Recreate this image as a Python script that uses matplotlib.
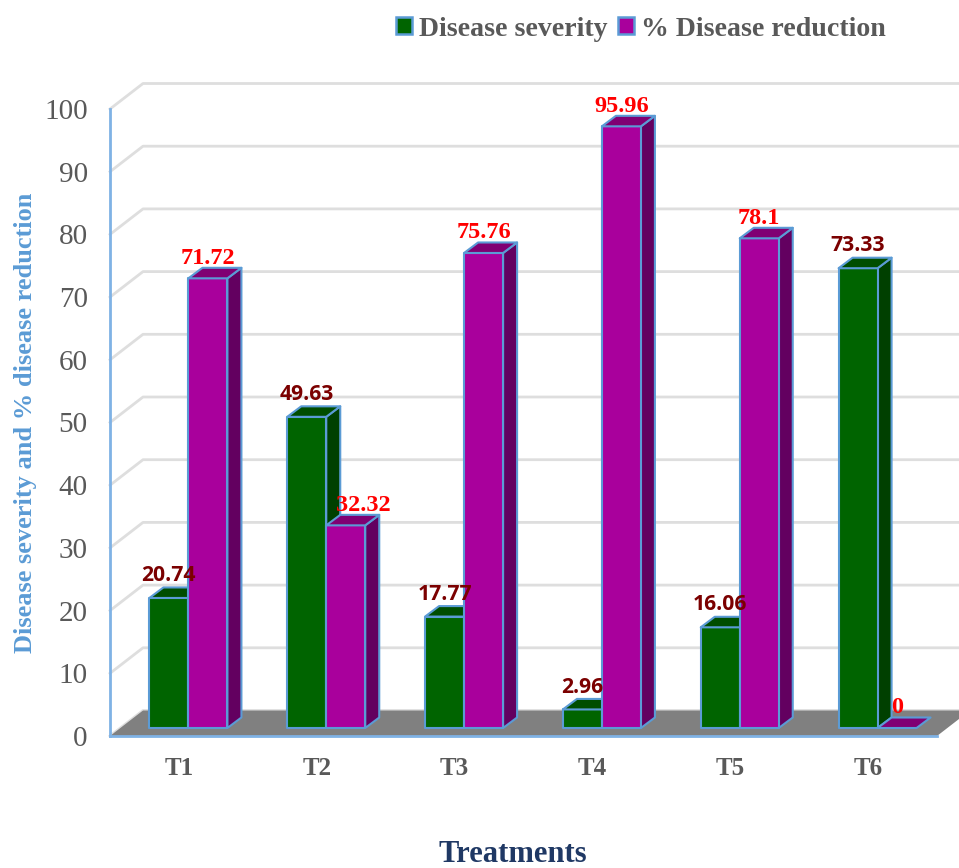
import matplotlib
matplotlib.use("Agg")
import matplotlib.pyplot as plt
from matplotlib.patches import Polygon, Patch

categories = ["T1", "T2", "T3", "T4", "T5", "T6"]
severity = [20.74, 49.63, 17.77, 2.96, 16.06, 73.33]
reduction = [71.72, 32.32, 75.76, 95.96, 78.1, 0]
severity_labels = ["20.74", "49.63", "17.77", "2.96", "16.06", "73.33"]
reduction_labels = ["71.72", "32.32", "75.76", "95.96", "78.1", "0"]
reduction_label_nudge = [0, 18, 0, 0, 0, 0]
y_ticks = list(range(0, 101, 10))

W, H = 959, 868
L, R, B, T = 110, 937, 736, 109
fig = plt.figure(figsize=(W / 100, H / 100), dpi=100)
ax = fig.add_axes([L / W, 1 - B / H, (R - L) / W, (B - T) / H])
ax.set_xlim(0, 6)
ax.set_ylim(0, 100)

px_x = 6 / (R - L)
px_y = 100 / (B - T)
wall_dx, wall_dy = 33 * px_x, 25.5 * px_y    # depth of the chart box
bar_dx, bar_dy = 14 * px_x, 10.5 * px_y      # depth of one bar
base_dx, base_dy = 9.5 * px_x, 8 * px_y      # offset of bars from front of floor
bar_w = 39 * px_x

EDGE = "#5B9BD5"
GRID = "#DEDEDE"
GREEN = ("#006400", "#004D00", "#004000")
MAGENTA = ("#A9009C", "#800073", "#630060")
SERIF = "Liberation Serif"


def box(x, value, cols, z):
    x0 = x + base_dx
    y0 = base_dy
    y1 = y0 + value
    kw = dict(edgecolor=EDGE, linewidth=1.5, clip_on=False, zorder=z, joinstyle="round")
    if value > 0:
        ax.add_patch(Polygon([(x0 + bar_w, y0), (x0 + bar_w + bar_dx, y0 + bar_dy),
                              (x0 + bar_w + bar_dx, y1 + bar_dy), (x0 + bar_w, y1)],
                             facecolor=cols[2], **kw))
        ax.add_patch(Polygon([(x0, y0), (x0 + bar_w, y0), (x0 + bar_w, y1), (x0, y1)],
                             facecolor=cols[0], **kw))
    ax.add_patch(Polygon([(x0, y1), (x0 + bar_w, y1), (x0 + bar_w + bar_dx, y1 + bar_dy),
                          (x0 + bar_dx, y1 + bar_dy)], facecolor=cols[1], **kw))
    return x0 + bar_w / 2, y1 + bar_dy


# floor and walls
ax.add_patch(Polygon([(0, 0), (6, 0), (6 + wall_dx, wall_dy), (wall_dx, wall_dy)],
                     facecolor="#808080", edgecolor="none", clip_on=False, zorder=1))
for v in y_ticks:
    ax.plot([0, wall_dx, 6 + wall_dx], [v, v + wall_dy, v + wall_dy], color=GRID,
            lw=2, clip_on=False, zorder=0.5, solid_joinstyle="round")

# bars and value labels
for i in range(len(categories)):
    centre = i + 0.5
    sx, sy = box(centre - bar_w, severity[i], GREEN, 3 + i)
    rx, ry = box(centre, reduction[i], MAGENTA, 3.5 + i)
    ax.annotate(severity_labels[i], (sx, sy), xytext=(0, 1), textcoords="offset points",
                ha="center", va="bottom", color="#7B0000", fontsize=15.2,
                fontweight="bold", family="Open Sans", zorder=20, annotation_clip=False)
    ax.annotate(reduction_labels[i], (rx, ry), xytext=(reduction_label_nudge[i] * 0.72, -0.5),
                textcoords="offset points",
                ha="center", va="bottom", color="#FF0000", fontsize=17.5,
                fontweight="bold", family=SERIF, zorder=20, annotation_clip=False)

# axes
for s in ("top", "right"):
    ax.spines[s].set_visible(False)
for s in ("left", "bottom"):
    ax.spines[s].set_color("#7FB2E5")
    ax.spines[s].set_linewidth(2)
    ax.spines[s].set_zorder(2)
ax.patch.set_alpha(0)
ax.set_yticks(y_ticks)
ax.set_yticklabels([str(v) for v in y_ticks], family=SERIF, fontsize=21, color="#595959")
ax.set_xticks([i + 0.5 for i in range(len(categories))])
ax.set_xticklabels(categories, family=SERIF, fontsize=18, fontweight="bold", color="#595959")
ax.tick_params(axis="y", length=0, pad=16)
ax.tick_params(axis="x", length=0, pad=15)

fig.text(513 / W, 1 - 855 / H, "Treatments", family=SERIF, fontsize=22, fontweight="bold",
         color="#1F3864", ha="center", va="center")
fig.text(26 / W, 1 - 423 / H, "Disease severity and % disease reduction", family=SERIF,
         fontsize=19, fontweight="bold", color="#5B9BD5", rotation=90, ha="center", va="center")

handles = [Patch(facecolor=GREEN[0], edgecolor=EDGE, lw=1.8, label="Disease severity"),
           Patch(facecolor=MAGENTA[0], edgecolor=EDGE, lw=1.8, label="% Disease reduction")]
fig.legend(handles=handles, ncols=2, loc="center", bbox_to_anchor=(641 / W, 1 - 29 / H),
           frameon=False, prop=dict(family=SERIF, size=20.1, weight="bold"),
           labelcolor="#595959", handlelength=0.55, handleheight=0.55,
           handletextpad=0.25, columnspacing=0.4, borderpad=0, borderaxespad=0)

fig.savefig("out.png", dpi=100)
